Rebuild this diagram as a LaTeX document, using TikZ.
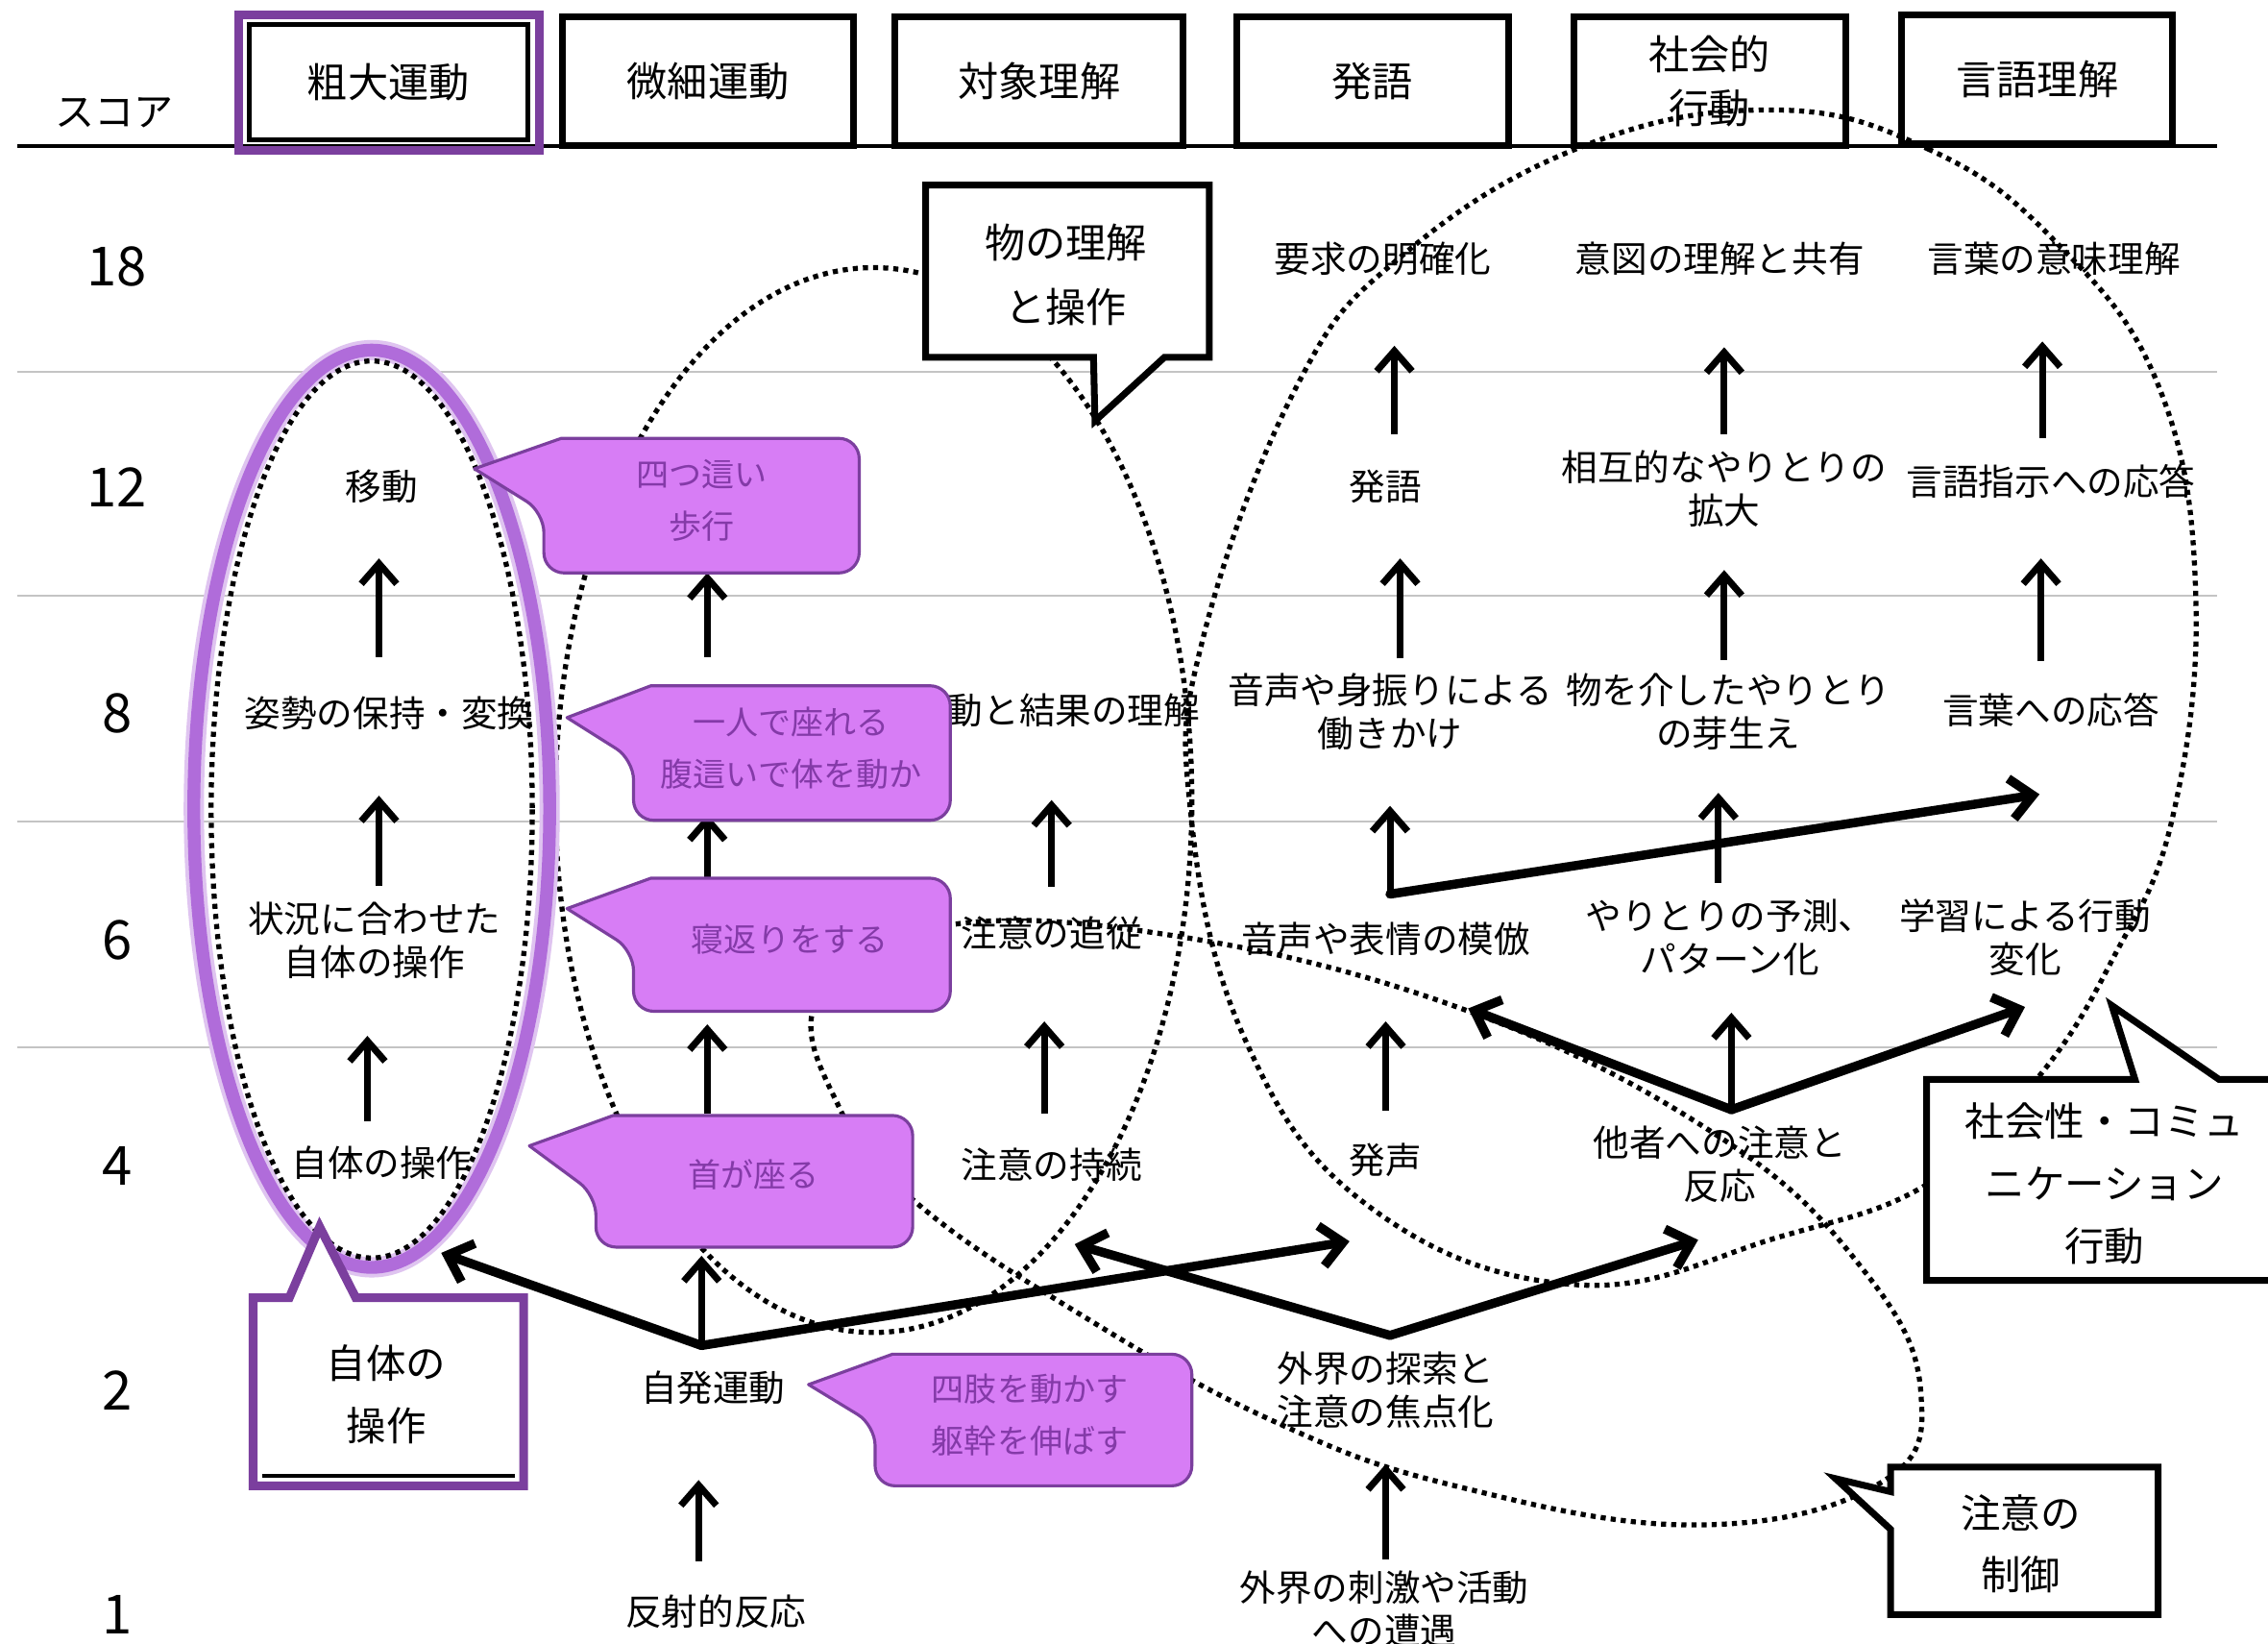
\documentclass[tikz,border=0pt]{standalone}
\usepackage{fontspec}
\setmainfont{Noto Sans CJK JP}
\usetikzlibrary{arrows.meta,calc}
\definecolor{lilac}{HTML}{D77DF5}
\definecolor{plum}{HTML}{7B3F9E}
\definecolor{plumtext}{HTML}{843AA8}
\definecolor{ring}{HTML}{B06CDA}
\definecolor{rule}{HTML}{C4C4C4}

\begin{document}
\begin{tikzpicture}[x=0.015057cm,y=-0.015057cm,
  lbl/.style={inner sep=0pt,align=center,font=\fontsize{10.7}{12.8}\selectfont},
  headbox/.style={draw,line width=2pt,fill=white,inner sep=0pt,align=center,minimum height=1.34cm,font=\fontsize{12}{16}\selectfont},
  boxtxt/.style={inner sep=0pt,align=center,font=\fontsize{11.8}{18.4}\selectfont},
  score/.style={inner sep=0pt,font=\fontsize{16}{16}\selectfont},
  tiptxt/.style={inner sep=0pt,align=center,text=plumtext,font=\fontsize{9.7}{15.5}\selectfont},
  tipbox/.style={fill=lilac,draw=plum,line width=0.9pt,line join=round},
  boxframe/.style={fill=white,draw,line width=2pt,line join=miter},
  uparr/.style={line width=2pt,-{Straight Barb[length=6pt,width=10.5pt]}},
  bigarr/.style={line width=2.7pt,line cap=round,-{Straight Barb[length=6.5pt,width=12pt]}},
  dotline/.style={line width=1.5pt,dash pattern=on 1.5pt off 1.5pt}]

\useasboundingbox (0,0) rectangle (1568,1136);
\fill[white] (0,0) rectangle (1568,1136);

% score rows
\foreach \yy in {257,412,568,724}
  \draw[rule,line width=0.6pt] (12,\yy) -- (1533,\yy);
\draw[line width=0.9pt] (12,101) -- (1533,101);

% header
\node[draw=plum,line width=2.6pt,minimum width=3.13cm,minimum height=1.415cm] (grossframe) at (269,57) {};
\node[headbox,line width=1.4pt,minimum width=2.9cm,minimum height=1.2cm] (gross) at (268.5,57) {粗大運動};
\node[headbox,minimum width=3.03cm] (fine) at (489.5,56) {微細運動};
\node[headbox,minimum width=3.0cm] (object) at (718.5,56) {対象理解};
\node[headbox,minimum width=2.83cm] (speech) at (949,56) {発語};
\node[headbox,minimum width=2.83cm] (social) at (1182,56) {社会的\\行動};
\node[headbox,minimum width=2.82cm] (language) at (1408.5,55) {言語理解};

\node[score,font=\fontsize{11.7}{12}\selectfont] (scorehead) at (79,78) {スコア};
\foreach \sc/\yy in {18/184,12/337,8/493,6/650,4/806,2/961,1/1116}
  \node[score] (sc\sc) at (81,\yy) {\sc};

% stages
\node[lbl] (idou) at (264,336) {移動};
\node[lbl] (sisei) at (269,493) {姿勢の保持・変換};
\node[lbl] (jyoukyou) at (259,650) {状況に合わせた\\自体の操作};
\node[lbl] (jitai) at (264,804) {自体の操作};
\coordinate (bi12) at (489,345);
\coordinate (bi8) at (489,490);
\coordinate (bi6) at (489,650);
\coordinate (bi4) at (489,805);
\node[lbl] (jihatsu) at (493,959) {自発運動};
\node[lbl] (hansha) at (495,1114) {反射的反応};
\node[lbl,anchor=east] (kekka) at (830,491) {動と結果の理解};
\node[lbl] (tsuijyu) at (727,645) {注意の追従};
\node[lbl] (jizoku) at (727,805) {注意の持続};
\node[lbl] (youkyu) at (956,179) {要求の明確化};
\node[lbl] (hatsugo) at (958,336) {発語};
\node[lbl] (miburi) at (961,492) {音声や身振りによる\\働きかけ};
\node[lbl] (mohou) at (958,649) {音声や表情の模倣};
\node[lbl] (hassei) at (958,802) {発声};
\node[lbl] (tansaku) at (958,961) {外界の探索と\\注意の焦点化};
\node[lbl] (shigeki) at (957,1112) {外界の刺激や活動\\への遭遇};
\node[lbl] (ito) at (1189,179) {意図の理解と共有};
\node[lbl] (sougo) at (1192,338) {相互的なやりとりの\\拡大};
\node[lbl] (mono) at (1195,492) {物を介したやりとり\\の芽生え};
\node[lbl] (yosoku) at (1196,648) {やりとりの予測、\\パターン化};
\node[lbl] (tasha) at (1189,805) {他者への注意と\\反応};
\node[lbl] (imi) at (1420,179) {言葉の意味理解};
\node[lbl] (shiji) at (1418,333) {言語指示への応答};
\node[lbl] (outou) at (1418,491) {言葉への応答};
\node[lbl] (gakushu) at (1400,648) {学習による行動\\変化};

\coordinate (J1) at ($(jihatsu)+(-8,-29)$);
\coordinate (J2) at ($(tansaku)+(3,-38)$);
\coordinate (J3) at ($(mohou)+(3,-31)$);
\coordinate (J4) at ($(tasha)+(8,-38)$);
\coordinate (ringfoot) at (305,866);

% upward steps
\draw[uparr] ($(sisei)+(-7,-39)$) -- ($(idou)+(-2,50)$);
\draw[uparr] ($(jyoukyou)+(3,-38)$) -- ($(sisei)+(-7,57)$);
\draw[uparr] ($(jitai)+(-10,-29)$) -- ($(jyoukyou)+(-5,66)$);
\draw[uparr] ($(bi8)+(0,-36)$) -- ($(bi12)+(0,51)$);
\draw[uparr] ($(bi6)+(0,-40)$) -- ($(bi8)+(0,73)$);
\draw[uparr] ($(bi4)+(0,-35)$) -- ($(bi6)+(0,58)$);
\draw[uparr] (J1) -- ($(bi4)+(-4,63)$);
\draw[uparr] ($(hansha)+(-12,-35)$) -- ($(jihatsu)+(-10,64)$);
\draw[uparr] ($(tsuijyu)+(0,-32)$) -- ($(tsuijyu|-kekka)+(0,62)$);
\draw[uparr] ($(jizoku)+(-5,-35)$) -- ($(tsuijyu)+(-5,61)$);
\draw[uparr] ($(hatsugo)+(6,-36)$) -- ($(youkyu)+(8,60)$);
\draw[uparr] ($(miburi)+(7,-37)$) -- ($(hatsugo)+(10,50)$);
\draw[uparr] (J3) -- ($(miburi)+(0,65)$);
\draw[uparr] ($(hassei)+(0,-34)$) -- ($(mohou)+(0,57)$);
\draw[uparr] ($(shigeki)+(1,-34)$) -- ($(tansaku)+(0,51)$);
\draw[uparr] ($(sougo)+(0,-38)$) -- ($(ito)+(3,61)$);
\draw[uparr] ($(mono)+(-3,-36)$) -- ($(sougo)+(0,56)$);
\draw[uparr] ($(yosoku)+(-8,-38)$) -- ($(mono)+(-7,56)$);
\draw[uparr] (J4) -- ($(yosoku)+(1,52)$);
\draw[uparr] ($(shiji)+(-6,-30)$) -- ($(imi)+(-8,57)$);
\draw[uparr] ($(outou)+(-7,-34)$) -- ($(shiji)+(-7,53)$);

% cross links
\draw[bigarr] (J1) -- (ringfoot);
\draw[bigarr] (J1) -- ($(hassei)+(-25,56)$);
\draw[bigarr] (J2) -- ($(jizoku)+(16,55)$);
\draw[bigarr] (J2) -- ($(tasha)+(-15,52)$);
\draw[bigarr] (J3) -- ($(outou)+(-8,58)$);
\draw[bigarr] (J4) -- ($(mohou)+(57,48)$);
\draw[bigarr] (J4) -- ($(gakushu)+(0,48)$);

% groupings
\draw[dotline] (604,553) ellipse [x radius=220, y radius=368];
\draw[dotline] plot[smooth cycle,tension=0.7] coordinates {(565,690) (640,642) (800,645) (1010,697) (1189,786) (1290,880) (1328,963) (1300,1025) (1174,1054) (1010,1028) (882,983) (746,908) (632,830) (580,765)};
\draw[dotline] plot[smooth cycle,tension=0.7] coordinates {(1225,76) (1333,103) (1420,166) (1492,266) (1518,410) (1502,565) (1460,664) (1408,746) (1335,817) (1230,855) (1090,888) (948,835) (861,719) (823,560) (832,440) (897,266) (969,177) (1092,102)};
\draw[ring!40,line width=6pt] (257,559) ellipse [x radius=123, y radius=317];
\draw[ring,line width=3.8pt] (257,559) ellipse [x radius=123, y radius=317];
\draw[dotline] (257,559.5) ellipse [x radius=111, y radius=310];

% group labels
\draw[boxframe] (640,128) -- (836,128) -- (836,247) -- (805,247) -- (757,291) -- (756,247) -- (640,247) -- cycle;
\node[boxtxt,font=\fontsize{12}{19.2}\selectfont] (monorikai) at (737,190) {物の理解\\と操作};
\draw[boxframe] (1332,746) -- (1476,746) -- (1460,695) -- (1534,746) -- (1600,746) -- (1600,885) -- (1332,885) -- cycle;
\node[boxtxt] (shakaisei) at (1455,818) {社会性・コミュ\\ニケーション\\行動};
\draw[boxframe] (1307,1014) -- (1492,1014) -- (1492,1116) -- (1307,1116) -- (1307,1057) -- (1269,1022) -- (1307,1031) -- cycle;
\node[boxtxt] (seigyo) at (1397,1067) {注意の\\制御};
\draw[boxframe,draw=plum,line width=2.6pt] (175,897) -- (200,897) -- (221,848) -- (246,897) -- (362,897) -- (362,1027) -- (175,1027) -- cycle;
\draw[line width=1pt] (181,1020) -- (356,1020);
\node[boxtxt] (jitaibox) at (267,964) {自体の\\操作};

% milestone callouts
\draw[tipbox] (328,324) -- (388,303) [rounded corners=6pt] -- (594,303) -- (594,396) -- (376,396) -- (376,354) [sharp corners] -- cycle;
\node[tiptxt] (yotsubai) at (485,346) {四つ這い\\歩行};
\draw[tipbox] (392,496) -- (450,474) [rounded corners=6pt] -- (657,474) -- (657,567) -- (438,567) -- (438,525) [sharp corners] -- cycle;
\node[tiptxt] (suwari) at (547,517) {一人で座れる\\腹這いで体を動か};
\draw[tipbox] (392,628) -- (450,607) [rounded corners=6pt] -- (657,607) -- (657,699) -- (438,699) -- (438,657) [sharp corners] -- cycle;
\node[tiptxt] (negaeri) at (546,649) {寝返りをする};
\draw[tipbox] (366,792) -- (424,771) [rounded corners=6pt] -- (631,771) -- (631,862) -- (412,862) -- (412,826) [sharp corners] -- cycle;
\node[tiptxt] (kubi) at (521,812) {首が座る};
\draw[tipbox] (559,957) -- (617,936) [rounded corners=6pt] -- (824,936) -- (824,1027) -- (605,1027) -- (605,985) [sharp corners] -- cycle;
\node[tiptxt] (shishi) at (712,978) {四肢を動かす\\躯幹を伸ばす};
\end{tikzpicture}
\end{document}
